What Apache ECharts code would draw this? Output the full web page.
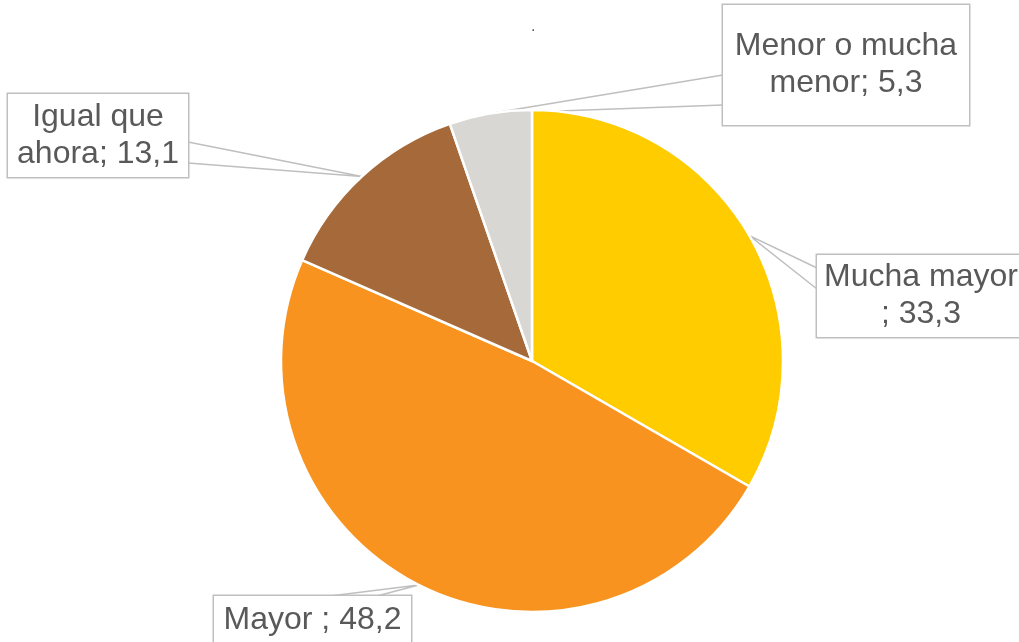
<!DOCTYPE html>
<html><head><meta charset="utf-8">
<script src="https://cdn.jsdelivr.net/npm/echarts@6/dist/echarts.min.js"></script>
<style>html,body{margin:0;padding:0;background:#fff}#c{width:1019px;height:642px}</style>
</head><body><div id="c"></div>
<script>
const categories = ["Mucha mayor\n", "Mayor ", "Igual que\nahora", "Menor o mucha\nmenor"];
const values = [33.3, 48.2, 13.1, 5.3];
const colors = ["#FFCC00", "#F7931E", "#A5693A", "#D9D7D3"];

// label callout boxes (layout/style only): outer left, top, width, height, padding [v,h], wedge attach points relative to box
const boxes = [
  {l: 817, t: 255, w: 208, h: 82,  pad: [4, 7],    wedge: [[0, 13], [0, 34]]},
  {l: 214, t: 596, w: 197, h: 49,  pad: [6, 10],   wedge: [[116, 0], [163, 0]]},
  {l: 8,   t: 94,  w: 180, h: 83,  pad: [4.5, 9.5], wedge: [[180, 48], [180, 69]]},
  {l: 723, t: 5,   w: 246, h: 120, pad: [23, 12],  wedge: [[0, 70], [0, 100]]}
];

const chart = echarts.init(document.getElementById('c'), null, {renderer: 'canvas'});
const data = categories.map((name, i) => ({
  name: name,
  value: values[i],
  itemStyle: {color: colors[i]},
  label: {width: boxes[i].w - 2 * boxes[i].pad[1], padding: [boxes[i].pad[0], boxes[i].pad[1]]}
}));

chart.setOption({
  animation: false,
  title: {
    text: '.', left: 526, top: 14,
    textStyle: {fontSize: 16, color: '#595959', fontWeight: 'normal', fontFamily: 'Liberation Sans, Arial, sans-serif'}
  },
  series: [{
    type: 'pie',
    center: [532, 361],
    radius: 251,
    startAngle: 90,
    clockwise: true,
    avoidLabelOverlap: false,
    data: data,
    itemStyle: {borderColor: '#ffffff', borderWidth: 2.5},
    label: {
      show: true,
      position: 'outside',
      formatter: p => p.name + '; ' + values[p.dataIndex].toFixed(1).replace('.', ','),
      color: '#595959',
      fontSize: 32,
      fontFamily: 'Liberation Sans, Arial, sans-serif',
      lineHeight: 37,
      align: 'center',
      overflow: 'none',
      backgroundColor: '#ffffff',
      borderColor: '#BFBFBF',
      borderWidth: 1.5
    },
    labelLine: {show: true, length: 10, length2: 10, smooth: false, lineStyle: {color: '#BFBFBF', width: 1.5}},
    labelLayout: function (params) {
      const b = boxes[params.dataIndex];
      const res = {x: b.l + b.w / 2, y: b.t + b.h / 2, align: 'center', verticalAlign: 'middle'};
      if (params.labelLinePoints && params.labelLinePoints.length) {
        const a = params.labelLinePoints[0];
        res.labelLinePoints = [
          [b.l + b.wedge[0][0], b.t + b.wedge[0][1]],
          [a[0], a[1]],
          [b.l + b.wedge[1][0], b.t + b.wedge[1][1]]
        ];
      }
      return res;
    },
    emphasis: {disabled: true}
  }]
});
</script>
</body></html>
